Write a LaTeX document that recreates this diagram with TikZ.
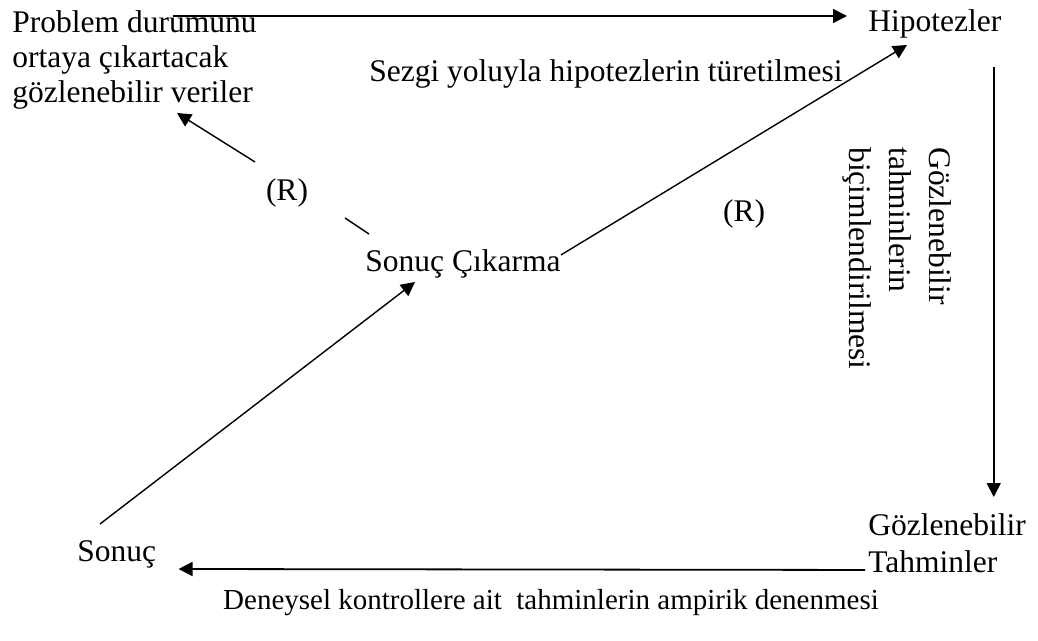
\documentclass[tikz,border=0pt]{standalone}
\usepackage{fontspec}
\setmainfont{Liberation Serif}
\usepackage{tikz}
\usetikzlibrary{arrows.meta, positioning, calc}

\begin{document}
\begin{tikzpicture}[
    x=0.5pt, y=-0.5pt,
    metin/.style={inner sep=0pt, align=left, font=\fontsize{15.75}{17.5}\selectfont},
    ok/.style={-{Triangle[length=7pt, width=7pt]}, line width=0.9pt},
    egik/.style={-{Triangle[length=7pt, width=7pt]}, line width=0.7pt},
    cizgi/.style={line width=0.7pt}
  ]
    \useasboundingbox (0,0) rectangle (1038,641);

    \node[metin, anchor=north west] (veriler) at (12,10) {Problem durumunu\\ortaya çıkartacak\\gözlenebilir veriler};
    \node[metin, anchor=base west] (hipotez) at (868,32) {Hipotezler};
    \node[metin, anchor=base east] (sezgi) at (843,82) {Sezgi yoluyla hipotezlerin türetilmesi};
    \node[metin, anchor=base] (rsol) at (287,201) {(R)};
    \node[metin, anchor=base west] (cikarma) at (365,272) {Sonuç Çıkarma};
    \node[metin, anchor=base] (rsag) at (744,222) {(R)};
    \node[metin, rotate=-90, anchor=north west, font=\fontsize{15.75}{20}\selectfont] (bicim) at (952,147) {Gözlenebilir\\tahminlerin\\biçimlendirilmesi};
    \node[metin, anchor=north west, font=\fontsize{15.75}{18.5}\selectfont] (gozlem) at (868,513) {Gözlenebilir\\Tahminler};
    \node[metin, anchor=base west] (sonuc) at (77,561) {Sonuç};
    \node[metin, anchor=base, font=\fontsize{14.5}{17.5}\selectfont] (deney) at (551,609) {Deneysel kontrollere ait\ \ tahminlerin ampirik denenmesi};

    % ust ok ve dikey ok
    \coordinate (ustbas) at ($(veriler.north west)+(161,6)$);
    \draw[ok, shorten >=10.5pt] (ustbas) -- (ustbas -| hipotez.west);
    \coordinate (dikbas) at ($(hipotez.base east)+(-8,35)$);
    \draw[ok, shorten >=8pt] (dikbas) -- (dikbas |- gozlem.north);

    % alt ok
    \draw[ok] ($(gozlem.south west)+(-3,-3)$) -- ($(sonuc.base east)+(22,8)$);

    % capraz oklar
    \draw[egik] ($(sonuc.base west)+(23,-37)$) -- ($(cikarma.base west)+(50,10)$);
    \draw[egik] ($(cikarma.base east)+(0,-17)$) -- ($(hipotez.base west)+(39,13)$);
    \draw[cizgi] ($(cikarma.base west)+(4,-38)$) -- ($(cikarma.base west)+(-20,-54)$);
    \draw[egik] ($(rsol.base)+(-32,-39)$) -- ($(rsol.base)+(-110,-88)$);
\end{tikzpicture}
\end{document}
